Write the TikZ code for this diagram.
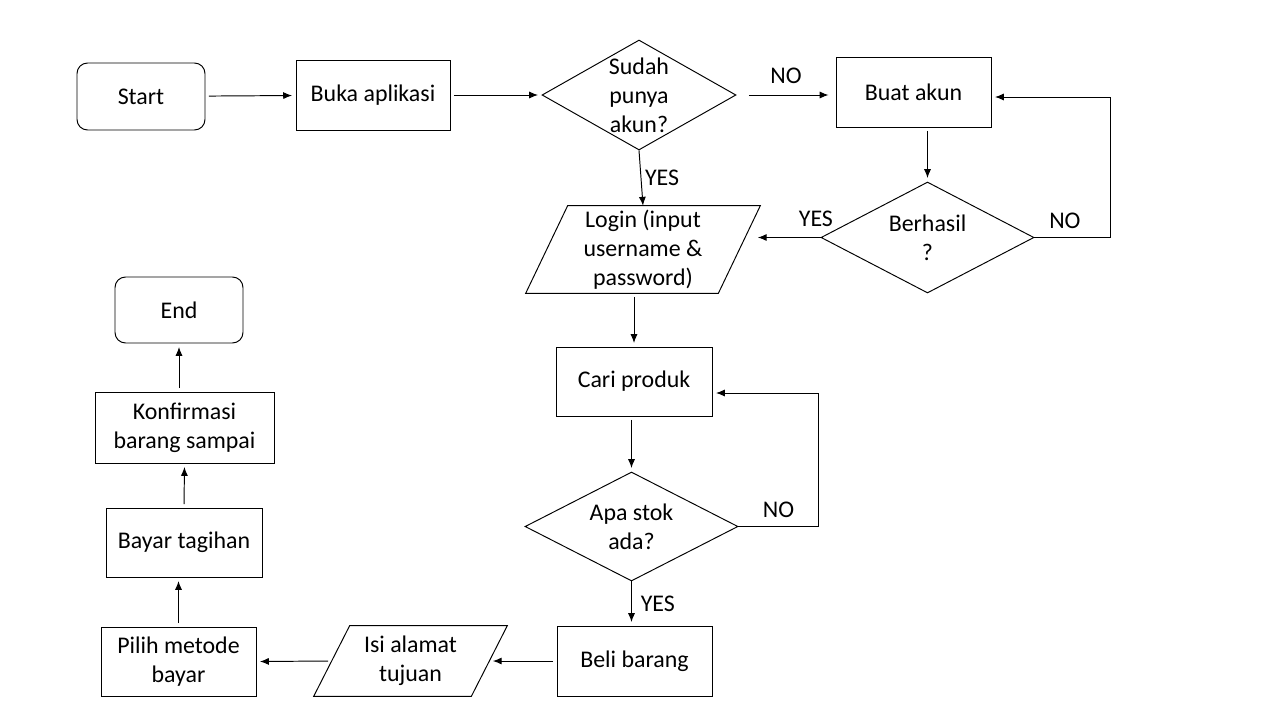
\documentclass[tikz,border=0pt]{standalone}
\usepackage{fontspec}
\setmainfont{Carlito}
\usepackage{tikz}
\usetikzlibrary{shapes.geometric, arrows.meta, positioning, calc}
\tikzset{
  process/.style={rectangle, draw, line width=0.55pt, minimum width=3.1cm,
    minimum height=1.4cm, align=center, inner sep=0pt},
  terminal/.style={process, rounded corners=6pt, minimum width=2.56cm,
    minimum height=1.34cm},
  decision/.style={diamond, draw, line width=0.55pt, inner sep=0pt,
    minimum width=4.26cm, minimum height=2.2cm},
  iobox/.style={rectangle, align=center, inner sep=0pt},
  ioline/.style={line width=0.55pt, line join=miter},
  dtext/.style={align=center, inner sep=0pt},
  arrow/.style={-{Latex[length=5pt,width=4pt]}, line width=0.55pt,
    shorten <=2pt, shorten >=2pt},
  flowlabel/.style={inner sep=2pt}
}
% parallelogram round a text box, #2 = half the slant offset
\newcommand{\ioshape}[2]{%
  \draw[ioline] ([xshift=-#2]#1.south west) -- ([xshift=#2]#1.north west)
    -- ([xshift=#2]#1.north east) -- ([xshift=-#2]#1.south east) -- cycle;}

\begin{document}
\begin{tikzpicture}[x=0.02cm, y=-0.02cm, font=\fontsize{13.6}{16.6}\selectfont]
  \useasboundingbox (0,0) rectangle (1280,720);
  % Top row
  \node[terminal] (start) at (141,96.5) {Start};
  \node[process, minimum width=3.08cm] (buka) at (373,95) {Buka aplikasi};
  \node[decision, minimum width=3.88cm] (sudah) at (639,95) {};
  \node[dtext] (sudahtext) at (sudah.center) {Sudah\\punya\\akun?};
  \node[process] (buat) at (913.5,92) {Buat akun};
  % Account check
  \node[decision, minimum height=2.22cm] (berhasil) at (927.5,237.5) {};
  \node[dtext] (berhasiltext) at (berhasil.center) {Berhasil\\?};
  \node[iobox, minimum width=3.84cm, minimum height=1.74cm] (login) at (643,249.5)
    {Login (input\\username \&\\password)};
  \ioshape{login}{0.42cm}
  % Product search
  \node[process, minimum width=3.12cm, minimum height=1.38cm] (cari) at (634,381.5) {Cari produk};
  \node[decision, minimum height=2.18cm] (apa) at (631.5,526.5) {};
  \node[dtext] (apatext) at (apa.center) {Apa stok\\ada?};
  % Bottom row
  \node[process] (beli) at (634.5,661) {Beli barang};
  \node[iobox, minimum width=3.14cm, minimum height=1.4cm] (isi) at (410.5,661)
    {Isi alamat\\tujuan};
  \ioshape{isi}{0.36cm}
  \node[process, minimum height=1.38cm] (pilih) at (178.5,661.5) {Pilih metode\\bayar};
  % Left column
  \node[process, minimum width=3.12cm, minimum height=1.38cm] (bayar) at (184,542.5) {Bayar tagihan};
  \node[process, minimum width=3.58cm, minimum height=1.42cm] (konfirmasi) at (184.5,427.5)
    {Konfirmasi\\barang sampai};
  \node[terminal, minimum height=1.32cm] (end) at (179,310) {End};

  % Connectors
  \draw[arrow] (start) -- (buka);
  \draw[arrow] (buka.east) -- (sudah.west);
  \draw[arrow, shorten <=7pt, shorten >=4pt] (sudah.east) -- (sudah.east -| buat.west)
    node[flowlabel, midway, above=4pt] (sudahno) {NO};
  \draw[arrow, shorten <=0pt, shorten >=0pt] (sudah.south) -- (login.north)
    node[flowlabel, midway, right] (sudahyes) {YES};
  \draw[arrow] (berhasil.north |- buat.south) -- (berhasil.north);
  \draw[arrow, shorten <=0pt] (berhasil.west) -- ([xshift=0.3cm]login.north east |- berhasil.west)
    node[flowlabel, pos=0.07, above=4pt] (berhasilyes) {YES};
  \draw[arrow, shorten <=0pt] (berhasil.east) -- ++(76,0)
    node[flowlabel, pos=0.4, above=3pt] (berhasilno) {NO}
    |- ([yshift=-0.1cm]buat.east);
  \draw[arrow] (cari.north |- login.south) -- (cari.north);
  \draw[arrow] (apa.north |- cari.south) -- (apa.north);
  \draw[arrow, shorten <=0pt] (apa.east) -- ++(80,0)
    node[flowlabel, midway, above=3pt] (apano) {NO}
    |- ([yshift=-0.23cm]cari.east);
  \draw[arrow, shorten <=0pt] (apa.south) -- (apa.south |- beli.north)
    node[flowlabel, midway, right=3pt] (apayes) {YES};
  \draw[arrow] (beli.west) -- (isi.east);
  \draw[arrow] (isi.west) -- (pilih.east);
  \draw[arrow] (pilih.north) -- (pilih.north |- bayar.south);
  \draw[arrow] (bayar.north) -- (konfirmasi.south);
  \draw[arrow] (konfirmasi.north -| end.south) -- (end.south);
\end{tikzpicture}
\end{document}
